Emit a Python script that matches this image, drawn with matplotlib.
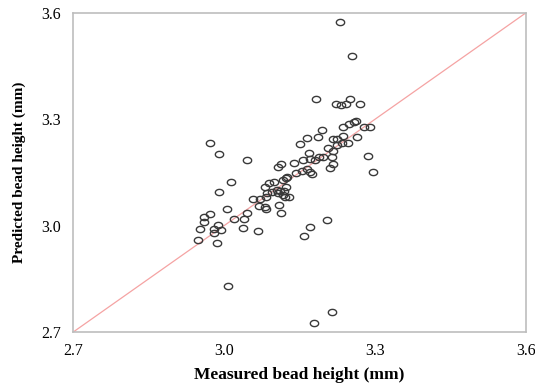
import matplotlib
matplotlib.use("Agg")
import matplotlib.pyplot as plt
import numpy as np
from matplotlib.path import Path

# measured vs predicted bead height (mm)
measured = [2.972, 2.990, 3.046, 3.194, 3.164, 3.187, 3.151, 3.236, 3.248, 3.258,
            3.279, 3.290, 3.216, 3.224, 3.237, 3.247, 3.264, 3.235, 3.224, 3.206,
            3.217, 3.168, 3.156, 3.171, 3.181, 3.189, 3.197, 3.140, 3.215, 3.216,
            3.211, 3.287, 3.297, 3.107, 3.113, 3.144, 3.154, 3.164, 3.170, 3.174,
            3.014, 2.990, 3.081, 3.090, 3.099, 3.118, 3.123, 3.126, 3.123, 3.085,
            3.095, 3.105, 3.111, 3.119, 3.058, 3.071, 3.083, 3.108, 3.118, 3.121,
            3.130, 3.070, 3.081, 3.083, 3.110, 3.113, 3.005, 3.045, 3.020, 3.040,
            2.961, 2.971, 2.961, 2.988, 2.979, 2.979, 2.993, 2.952, 2.949, 2.986,
            3.038, 3.067, 3.204, 3.171, 3.158, 3.008, 3.215, 3.179, 3.231, 3.254,
            3.182, 3.222, 3.233, 3.243, 3.251, 3.271, 3.262]
predicted = [3.232, 3.203, 3.184, 3.270, 3.248, 3.251, 3.230, 3.278, 3.287, 3.292,
             3.278, 3.278, 3.245, 3.245, 3.253, 3.232, 3.249, 3.232, 3.228, 3.218,
             3.212, 3.204, 3.185, 3.187, 3.185, 3.193, 3.195, 3.178, 3.193, 3.173,
             3.162, 3.197, 3.151, 3.166, 3.173, 3.149, 3.155, 3.159, 3.152, 3.146,
             3.124, 3.094, 3.108, 3.120, 3.122, 3.129, 3.134, 3.136, 3.110, 3.093,
             3.096, 3.101, 3.097, 3.098, 3.074, 3.074, 3.082, 3.091, 3.087, 3.080,
             3.080, 3.056, 3.052, 3.046, 3.058, 3.035, 3.046, 3.037, 3.020, 3.018,
             3.025, 3.032, 3.011, 3.002, 2.990, 2.978, 2.988, 2.990, 2.960, 2.950,
             2.993, 2.986, 3.016, 2.997, 2.972, 2.829, 2.756, 2.725, 3.574, 3.479,
             3.357, 3.343, 3.341, 3.343, 3.358, 3.343, 3.295]

ticks = [2.7, 3.0, 3.3, 3.6]

plt.rcParams['font.family'] = ['Liberation Serif', 'DejaVu Serif']

# slightly flattened open circle, like the original export
t = np.linspace(0, 2 * np.pi, 40)
ellipse = Path(np.column_stack([np.cos(t), 0.75 * np.sin(t)]))

fig = plt.figure(figsize=(5.35, 3.85), dpi=100)
ax = fig.add_axes([0.137, 0.1377, 0.8456, 0.8285])

ax.axline((2.7, 2.7), slope=1, color='#f5a3a3', lw=0.9, zorder=1)
ax.plot(measured, predicted, linestyle='none', marker=ellipse, markersize=6.0,
        markerfacecolor='none', markeredgecolor='#3a3a3a', markeredgewidth=1.0, zorder=2)

ax.set_xlim(2.7, 3.6)
ax.set_ylim(2.7, 3.6)
ax.set_xticks(ticks)
ax.set_yticks(ticks)
ax.set_xticklabels(['%.1f' % v for v in ticks])
ax.set_yticklabels(['%.1f' % v for v in ticks])
ax.tick_params(axis='x', length=0, labelsize=11.5, pad=8)
ax.tick_params(axis='y', length=0, labelsize=11.5, pad=9)

for s in ax.spines.values():
    s.set_color('#bdbdbd')
    s.set_linewidth(1.2)

ax.set_xlabel('Measured bead height (mm)', fontsize=12.5, fontweight='bold', labelpad=6)
ax.set_ylabel('Predicted bead height (mm)', fontsize=11, fontweight='bold', labelpad=11)

fig.savefig('out.png', dpi=100)
